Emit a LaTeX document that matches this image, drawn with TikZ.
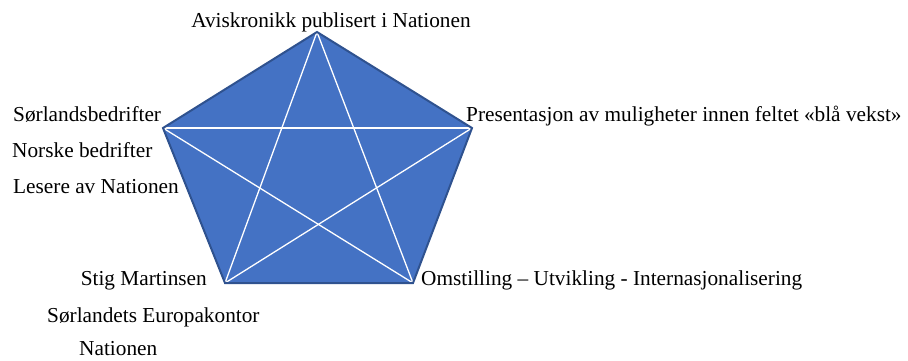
\documentclass[tikz,border=0pt]{standalone}
\usepackage{fontspec}
\setmainfont{Liberation Serif}
\usetikzlibrary{positioning}
\usetikzlibrary{calc}
\definecolor{penta}{HTML}{4472C4}
\definecolor{pentaedge}{HTML}{2F528F}
\tikzset{lbl/.style={inner sep=0pt, font=\fontsize{21.3}{25}\selectfont}}
\tikzset{star/.style={draw=white, line width=1.3pt}}
\begin{document}
\begin{tikzpicture}[x=1pt, y=-1pt]
        \useasboundingbox (0,0) rectangle (908,360);
        \coordinate (top) at (317, 32);
        \coordinate (rt) at (472, 128);
        \coordinate (br) at (413, 283);
        \coordinate (bl) at (225, 283);
        \coordinate (lt) at (163, 128);

        \fill[penta] (top) -- (rt) -- (br) -- (bl) -- (lt) -- cycle;

        \draw[star] (top) -- (bl);
        \draw[star] (top) -- (br);
        \draw[star] (lt) -- (rt);
        \draw[star] (lt) -- (br);
        \draw[star] (rt) -- (bl);

        \draw[pentaedge, line width=2pt, line join=miter] (top) -- (rt) -- (br) -- (bl) -- (lt) -- cycle;

        \node[lbl, anchor=base] (avis) at (331, 27) {Aviskronikk publisert i Nationen};
        \node[lbl, anchor=base west] (pres) at (466, 121) {Presentasjon av muligheter innen feltet «blå vekst»};
        \node[lbl, anchor=base west] (omst) at (421, 285) {Omstilling – Utvikling - Internasjonalisering};

        \node[lbl, anchor=base west] (sbed) at (13, 121) {Sørlandsbedrifter};
        \node[lbl, anchor=base west] (nbed) at (12, 157) {Norske bedrifter};
        \node[lbl, anchor=base west] (lese) at (13, 193) {Lesere av Nationen};

        \node[lbl, anchor=base east] (stig) at (207, 285) {Stig Martinsen};
        \node[lbl, anchor=base west] (euro) at (47, 322) {Sørlandets Europakontor};
        \node[lbl, anchor=base west] (nat) at (79, 355) {Nationen};
    \end{tikzpicture}
\end{document}
